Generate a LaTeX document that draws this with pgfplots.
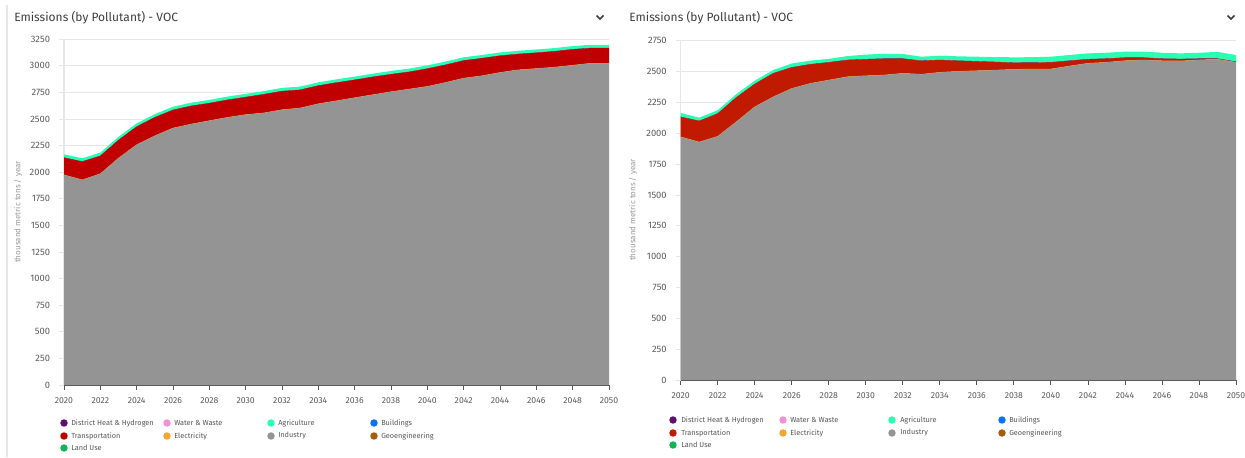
\documentclass[border=0pt]{standalone}
\usepackage{fontspec}
\setmainfont{Fira Sans}
\usepackage{pgfplots}
\pgfplotsset{compat=1.18}
\usepackage{pgfplotstable}

\definecolor{ind}{HTML}{949494}
\definecolor{trL}{HTML}{C00000}
\definecolor{trR}{HTML}{C01B00}
\definecolor{agr}{HTML}{2BFDB2}
\definecolor{elc}{HTML}{F0A830}
\definecolor{dhc}{HTML}{5E1070}
\definecolor{wwc}{HTML}{F590D8}
\definecolor{bldc}{HTML}{0A74F0}
\definecolor{geoc}{HTML}{A65D0C}
\definecolor{luc}{HTML}{13B35A}
\definecolor{gridc}{HTML}{E6E6E6}
\definecolor{xaxisc}{HTML}{555555}
\definecolor{tickc}{HTML}{5A5A5A}
\definecolor{titlec}{HTML}{3C3C3C}
\definecolor{ylabc}{HTML}{9A9A9A}
\definecolor{legc}{HTML}{555555}

% year, Industry, Electricity(0), Transportation, District heat(0), Agriculture
\pgfplotstableread{
year I E T D A
2020 1975 0 162 0 31
2021 1928 0 172 0 31
2022 1985 0 168 0 31
2023 2132 0 170 0 31
2024 2258 0 170 0 31
2025 2342 0 174 0 31
2026 2415 0 170 0 31
2027 2452 0 171 0 31
2028 2484 0 165 0 31
2029 2515 0 165 0 31
2030 2541 0 165 0 31
2031 2557 0 175 0 31
2032 2587 0 175 0 31
2033 2603 0 171 0 31
2034 2643 0 171 0 31
2035 2671 0 171 0 31
2036 2700 0 168 0 31
2037 2728 0 168 0 31
2038 2756 0 165 0 31
2039 2781 0 162 0 31
2040 2806 0 168 0 31
2041 2843 0 166 0 31
2042 2884 0 166 0 31
2043 2906 0 165 0 31
2044 2937 0 158 0 31
2045 2962 0 149 0 31
2046 2974 0 149 0 31
2047 2987 0 149 0 31
2048 3005 0 150 0 31
2049 3024 0 143 0 31
2050 3020 0 146 0 31
}\leftdata

\pgfplotstableread{
year I E T D A
2020 1970 0 162 0 32
2021 1928 0 171 0 27
2022 1974 0 185 0 27
2023 2091 0 198 0 27
2024 2213 0 185 0 27
2025 2294 0 191 0 27
2026 2362 0 171 0 32
2027 2403 0 155 0 30
2028 2430 0 144 0 28
2029 2457 0 136 0 32
2030 2465 0 134 0 38
2031 2471 0 133 0 40
2032 2485 0 119 0 38
2033 2477 0 110 0 33
2034 2493 0 100 0 35
2035 2501 0 86 0 36
2036 2506 0 76 0 38
2037 2511 0 66 0 40
2038 2517 0 54 0 44
2039 2520 0 52 0 44
2040 2520 0 54 0 46
2041 2544 0 43 0 47
2042 2566 0 33 0 48
2043 2574 0 30 0 48
2044 2587 0 25 0 49
2045 2593 0 19 0 49
2046 2587 0 17 0 48
2047 2585 0 16 0 46
2048 2593 0 11 0 48
2049 2599 0 5 0 55
2050 2574 0 5 0 55
}\rightdata

\pgfplotsset{
  emis/.style={
    scale only axis, xmin=2020, xmax=2050, ymin=0,
    xtick={2020,2022,...,2050},
    /pgf/number format/assume math mode=true,
    /pgf/number format/1000 sep={},
    x tick label style={font=\fontsize{6.5}{7}\selectfont, text=tickc, yshift=-2.5pt},
    y tick label style={font=\fontsize{7}{8}\selectfont, text=tickc, xshift=-3.5pt},
    axis x line*=bottom, axis y line*=left,
    tick align=outside,
    ymajorgrids, grid style={color=gridc, line width=0.6pt},
    major tick length=3.5pt,
    x axis line style={color=xaxisc, line width=0.8pt},
    y axis line style={color=gridc, line width=0.8pt},
    xtick style={color=xaxisc, line width=0.6pt},
    ytick style={color=gridc, line width=0.6pt},
    stack plots=y,
  }
}

\begin{document}
\begin{tikzpicture}[x=0.75pt,y=0.75pt]
\useasboundingbox (0,0) rectangle (1245,457);

% panel borders
\draw[color=gridc, line width=0.8pt] (7,0) -- (7,452);

% ---------------- LEFT PANEL ----------------
\node[anchor=west, font=\fontsize{9}{10}\selectfont, text=titlec, inner sep=0pt] at (14,439) {Emissions (by Pollutant) - VOC};
\draw[color=titlec, line width=1.1pt] (596.5,441.5) -- (600,438) -- (603.5,441.5);
\node[rotate=90, font=\fontsize{6}{7}\selectfont, text=ylabc] at (18,245) {thousand metric tons / year};

\begin{axis}[emis, at={(48pt,54pt)}, anchor=origin,
  width=408.75pt, height=259.3pt, ymax=3250,
  ytick={0,250,...,3250}]
\addplot[fill=ind, draw=none, mark=none] table[x=year,y=I]{\leftdata} \closedcycle;
\addplot[draw=elc, line width=0.4pt, mark=none] table[x=year,y=E]{\leftdata};
\addplot[fill=trL, draw=none, mark=none] table[x=year,y=T]{\leftdata} \closedcycle;
\addplot[draw=dhc, line width=0.3pt, mark=none] table[x=year,y=D]{\leftdata};
\addplot[fill=agr, draw=none, mark=none] table[x=year,y=A]{\leftdata} \closedcycle;
\end{axis}

% legend left
\begin{scope}[font=\fontsize{5.5}{7}\selectfont]
\fill[dhc] (64,34) circle (2.8pt); \node[anchor=west,text=legc,inner sep=0pt] at (71,34) {District Heat \& Hydrogen};
\fill[wwc] (167,34) circle (2.8pt); \node[anchor=west,text=legc,inner sep=0pt] at (174,34) {Water \& Waste};
\fill[agr] (271,34) circle (2.8pt); \node[anchor=west,text=legc,inner sep=0pt] at (278,34) {Agriculture};
\fill[bldc] (374,34) circle (2.8pt); \node[anchor=west,text=legc,inner sep=0pt] at (381,34) {Buildings};
\fill[trL] (64,21) circle (2.8pt); \node[anchor=west,text=legc,inner sep=0pt] at (71,21) {Transportation};
\fill[elc] (167,21) circle (2.8pt); \node[anchor=west,text=legc,inner sep=0pt] at (174,21) {Electricity};
\fill[ind] (271,21) circle (2.8pt); \node[anchor=west,text=legc,inner sep=0pt] at (278,21) {Industry};
\fill[geoc] (374,21) circle (2.8pt); \node[anchor=west,text=legc,inner sep=0pt] at (381,21) {Geoengineering};
\fill[luc] (64,9) circle (2.8pt); \node[anchor=west,text=legc,inner sep=0pt] at (71,9) {Land Use};
\end{scope}

% ---------------- RIGHT PANEL ----------------
\node[anchor=west, font=\fontsize{9}{10}\selectfont, text=titlec, inner sep=0pt] at (629,439) {Emissions (by Pollutant) - VOC};
\draw[color=titlec, line width=1.1pt] (1227.5,441.5) -- (1231,438) -- (1234.5,441.5);
\node[rotate=90, font=\fontsize{6}{7}\selectfont, text=ylabc] at (633,247) {thousand metric tons / year};

\begin{axis}[emis, at={(510.5pt,57.75pt)}, anchor=origin,
  width=416.5pt, height=254.5pt, ymax=2750,
  ytick={0,250,...,2750}]
\addplot[fill=ind, draw=none, mark=none] table[x=year,y=I]{\rightdata} \closedcycle;
\addplot[draw=elc, line width=0.4pt, mark=none] table[x=year,y=E]{\rightdata};
\addplot[fill=trR, draw=none, mark=none] table[x=year,y=T]{\rightdata} \closedcycle;
\addplot[draw=dhc, line width=0.3pt, mark=none] table[x=year,y=D]{\rightdata};
\addplot[fill=agr, draw=none, mark=none] table[x=year,y=A]{\rightdata} \closedcycle;
\end{axis}

% legend right
\begin{scope}[font=\fontsize{5.5}{7}\selectfont]
\fill[dhc] (673,37) circle (2.8pt); \node[anchor=west,text=legc,inner sep=0pt] at (681,37) {District Heat \& Hydrogen};
\fill[wwc] (783,37) circle (2.8pt); \node[anchor=west,text=legc,inner sep=0pt] at (790,37) {Water \& Waste};
\fill[agr] (892,37) circle (2.8pt); \node[anchor=west,text=legc,inner sep=0pt] at (900,37) {Agriculture};
\fill[bldc] (1002,37) circle (2.8pt); \node[anchor=west,text=legc,inner sep=0pt] at (1009,37) {Buildings};
\fill[trR] (673,24) circle (2.8pt); \node[anchor=west,text=legc,inner sep=0pt] at (681,24) {Transportation};
\fill[elc] (783,24) circle (2.8pt); \node[anchor=west,text=legc,inner sep=0pt] at (790,24) {Electricity};
\fill[ind] (892,24) circle (2.8pt); \node[anchor=west,text=legc,inner sep=0pt] at (900,24) {Industry};
\fill[geoc] (1002,24) circle (2.8pt); \node[anchor=west,text=legc,inner sep=0pt] at (1009,24) {Geoengineering};
\fill[luc] (673,12) circle (2.8pt); \node[anchor=west,text=legc,inner sep=0pt] at (681,12) {Land Use};
\end{scope}
\end{tikzpicture}
\end{document}
